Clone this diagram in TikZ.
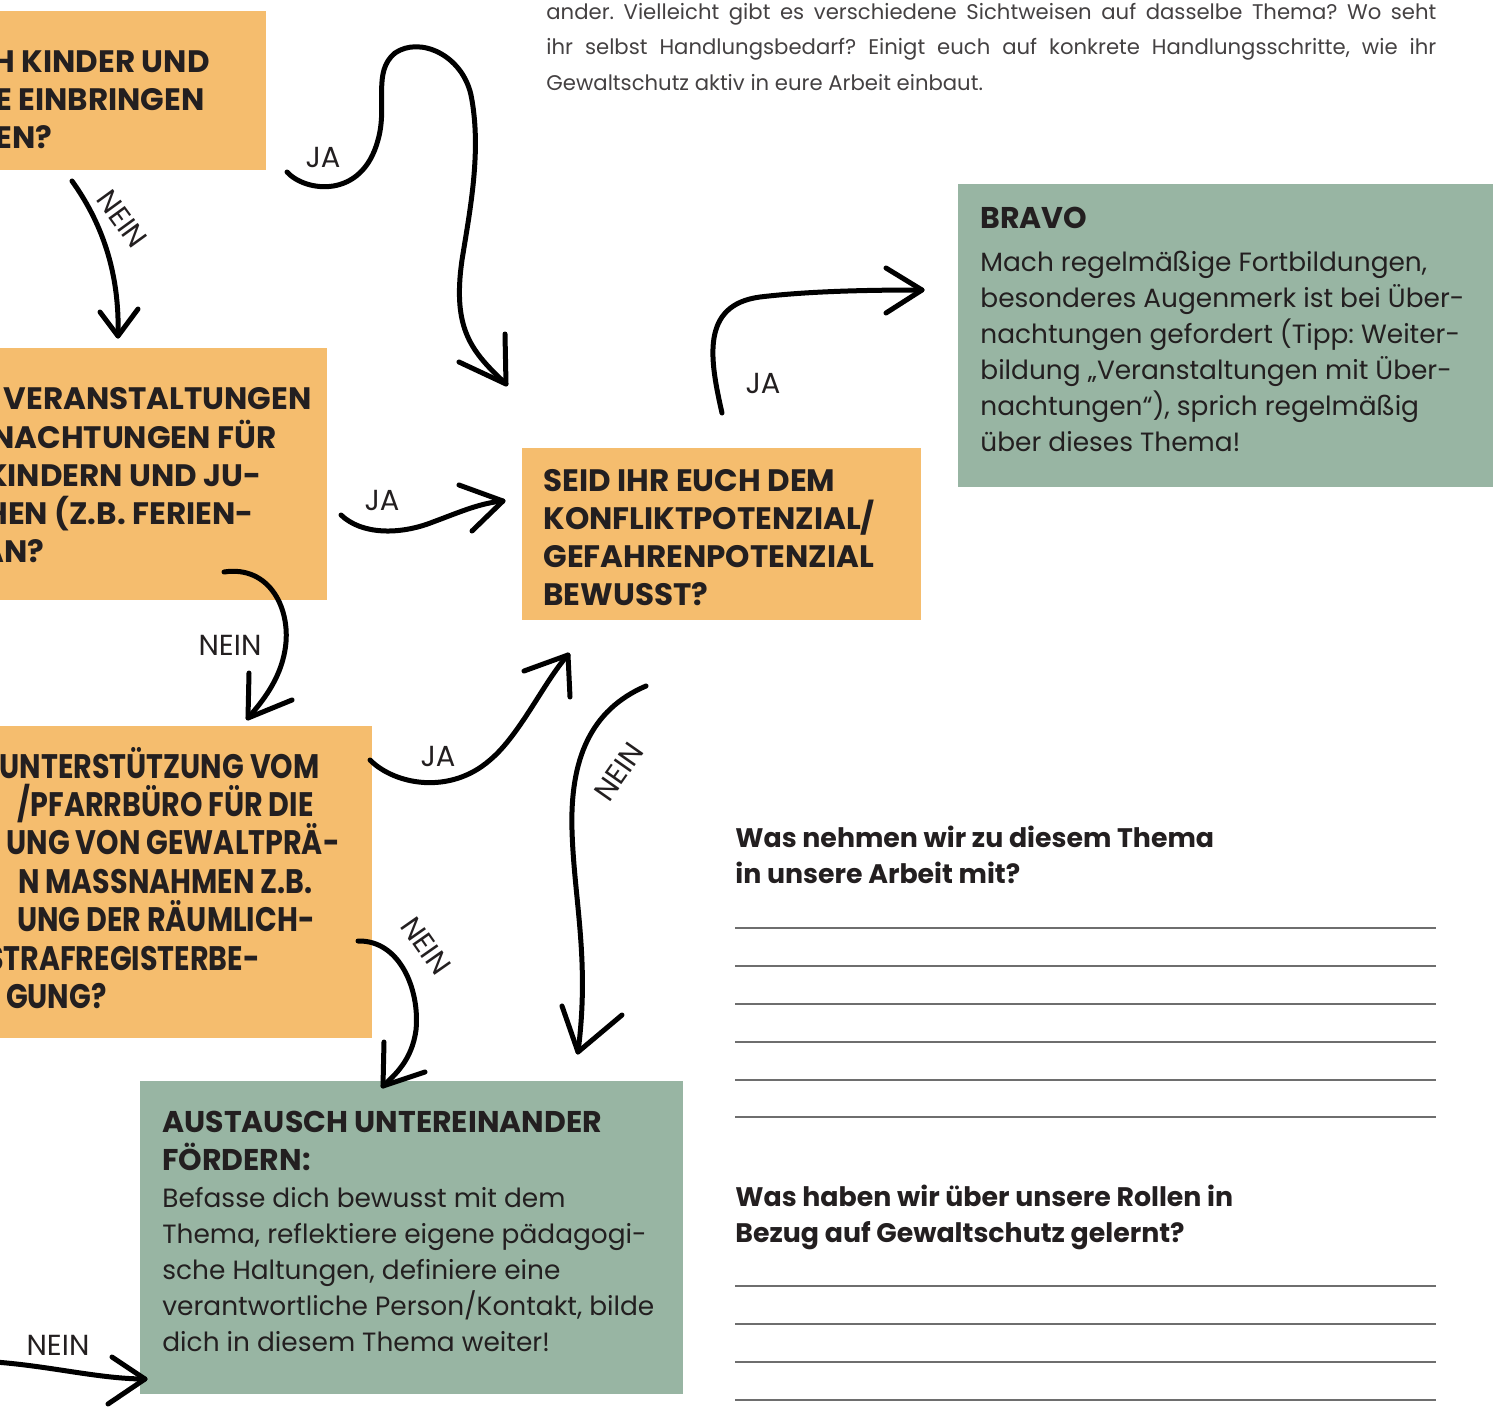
\documentclass[tikz,border=0pt]{standalone}
\usepackage{fontspec}
\setmainfont{Poppins}
\usetikzlibrary{calc}
\definecolor{orng}{HTML}{F5BD6E}
\definecolor{sage}{HTML}{98B5A3}
\definecolor{ink}{HTML}{231F20}
\definecolor{rule}{HTML}{6E6E6E}
\frenchspacing
\newcommand{\condtxt}[1]{\scalebox{0.84}[1]{#1}}
\tikzset{
  obox/.style={fill=orng, draw=none, inner sep=0pt, outer sep=0pt, anchor=north west},
  gbox/.style={fill=sage, draw=none, inner sep=0pt, outer sep=0pt, anchor=north west},
  qline/.style={inner sep=0pt, anchor=base east, text=ink, font=\bfseries\fontsize{15.5}{19}\selectfont},
  qlinec/.style={inner sep=0pt, anchor=base east, text=ink, font=\bfseries\fontsize{17}{19}\selectfont},
  qtext/.style={inner sep=0pt, anchor=base west, text=ink, align=left, font=\bfseries\fontsize{15.5}{19}\selectfont},
  htext/.style={inner sep=0pt, anchor=base west, text=ink, align=left, font=\bfseries\fontsize{15}{19}\selectfont},
  btext/.style={inner sep=0pt, anchor=base west, text=ink, align=left, font=\fontsize{13.2}{18}\selectfont},
  lbl/.style={inner sep=0pt, text=ink, font=\fontsize{14.5}{16}\selectfont},
  stroke/.style={draw=black, line width=2.5pt, line cap=round, line join=round},
  wline/.style={draw=rule, line width=0.7pt},
}
\begin{document}
\begin{tikzpicture}[x=0.5pt,y=-0.5pt]
\useasboundingbox (0,0) rectangle (1501,1408);
\clip (0,0) rectangle (1501,1408);

% ---------- boxes ----------
\node[obox, minimum width=138pt, minimum height=79.5pt] (b1) at (-10,11) {};
\node[obox, minimum width=168.5pt, minimum height=126pt] (b2) at (-10,348) {};
\node[obox, minimum width=191pt, minimum height=156pt] (b3) at (-10,726) {};
\node[obox, minimum width=199.5pt, minimum height=86pt] (b4) at (522,448) {};
\node[gbox, minimum width=267.5pt, minimum height=151.5pt] (bravo) at (958,184) {};
\node[gbox, minimum width=271.5pt, minimum height=156.5pt] (aust) at (140,1081) {};

% ---------- box 1 ----------
\node[qline] (t1a) at (210,72) {H KINDER UND};
\node[qline] (t1b) at (205,110) {E EINBRINGEN};
\node[qline] (t1c) at (53,148) {EN?};

% ---------- box 2 ----------
\node[qline] (t2a) at (312,409) {R VERANSTALTUNGEN};
\node[qline] (t2b) at (277,448) {NACHTUNGEN FÜR};
\node[qline] (t2c) at (262,486) {KINDERN UND JU-};
\node[qline] (t2d) at (254,524) {HEN (Z.B. FERIEN-};
\node[qline] (t2e) at (45,562) {AN?};

% ---------- box 3 ----------
\node[qlinec] (t3a) at (320,778) {\condtxt{UNTERSTÜTZUNG VOM}};
\node[qlinec] (t3b) at (314,816) {\condtxt{/PFARRBÜRO FÜR DIE}};
\node[qlinec] (t3c) at (340,854) {\condtxt{UNG VON GEWALTPRÄ-}};
\node[qlinec] (t3d) at (313,893) {\condtxt{N MASSNAHMEN Z.B.}};
\node[qlinec] (t3e) at (315,931) {\condtxt{UNG DER RÄUMLICH-}};
\node[qlinec] (t3f) at (260,970) {\condtxt{STRAFREGISTERBE-}};
\node[qlinec] (t3g) at (107,1008) {\condtxt{GUNG?}};

% ---------- box 4 (base = last line) ----------
\node[qtext] (t4) at (543,605) {SEID IHR EUCH DEM\\KONFLIKTPOTENZIAL/\\GEFAHRENPOTENZIAL\\BEWUSST?};

% ---------- BRAVO ----------
\node[htext] (tbh) at (980,228) {BRAVO};
\node[btext] (tbb) at (980,451) {Mach regelmäßige Fortbildungen,\\besonderes Augenmerk ist bei Über-\\nachtungen gefordert (Tipp: Weiter-\\bildung „Veranstaltungen mit Über-\\nachtungen“), sprich regelmäßig\\über dieses Thema!};

% ---------- AUSTAUSCH ----------
\node[htext] (tah) at (162,1170) {AUSTAUSCH UNTEREINANDER\\FÖRDERN:};
\node[btext] (tab) at (162,1351) {Befasse dich bewusst mit dem\\Thema, reflektiere eigene pädagogi-\\sche Haltungen, definiere eine\\verantwortliche Person/Kontakt, bilde\\dich in diesem Thema weiter!};

% ---------- top paragraph (base = first line) ----------
\node[inner sep=0pt, anchor=base west, text=ink!85, text width=445pt, align=justify,
      font=\fontsize{10.6}{17.8}\selectfont] (top) at (546,19)
  {ander. Vielleicht gibt es verschiedene Sichtweisen auf dasselbe Thema? Wo seht ihr selbst Handlungsbedarf? Einigt euch auf konkrete Handlungsschritte, wie ihr Gewaltschutz aktiv in eure Arbeit einbaut.};

% ---------- questions ----------
\node[inner sep=0pt, anchor=base west, text=ink, align=left, font=\bfseries\fontsize{13.4}{18}\selectfont] (qa) at (735,883)
  {Was nehmen wir zu diesem Thema\\in unsere Arbeit mit?};
\node[inner sep=0pt, anchor=base west, text=ink, align=left, font=\bfseries\fontsize{13.4}{18}\selectfont] (qb) at (735,1242)
  {Was haben wir über unsere Rollen in\\Bezug auf Gewaltschutz gelernt?};
\foreach \yy in {928,966,1004,1042,1080,1117,1286,1324,1362,1400}
  \draw[wline] (735,\yy) -- (1436,\yy);

% ---------- arrow coordinates ----------
\coordinate (a1s) at (72,181);   \coordinate (a1t) at (118,336);
\coordinate (a2s) at (287,172);  \coordinate (a2t) at (506,384);
\coordinate (a3s) at (341,515);  \coordinate (a3t) at (503,501);
\coordinate (a4s) at (224,572);  \coordinate (a4t) at (248,718);
\coordinate (a5s) at (370,760);  \coordinate (a5t) at (568,655);
\coordinate (a6s) at (646,686);  \coordinate (a6t) at (578,1052);
\coordinate (a7s) at (358,941);  \coordinate (a7t) at (383,1086);
\coordinate (a8s) at (722,413);  \coordinate (a8t) at (922,290);
\coordinate (a9s) at (-5,1362);  \coordinate (a9t) at (145,1379);

% A1 NEIN box1 -> box2
\draw[stroke] (a1s) .. controls (100,220) and (120,270) .. (a1t);
\draw[stroke] (100,312) -- (a1t) -- (138,309);
\node[lbl, rotate=-54] (l1) at (122,219) {NEIN};

% A2 JA box1 -> box4
\draw[stroke] (a2s) .. controls (305,192) and (362,200) .. (378,140)
  .. controls (388,105) and (372,72) .. (395,53)
  .. controls (420,36) and (462,55) .. (471,95)
  .. controls (482,150) and (470,210) .. (462,260)
  .. controls (452,330) and (472,352) .. (a2t);
\draw[stroke] (505,334) -- (a2t) -- (459,362);
\node[lbl] (l2) at (323,157) {JA};

% A3 JA box2 -> box4
\draw[stroke] (a3s) .. controls (362,535) and (400,535) .. (433,522)
  .. controls (460,512) and (480,503) .. (a3t);
\draw[stroke] (459,485) -- (a3t) -- (472,531);
\node[lbl] (l3) at (382,500) {JA};

% A4 NEIN box2 -> box3
\draw[stroke] (a4s) .. controls (270,565) and (292,610) .. (285,650)
  .. controls (280,680) and (262,702) .. (a4t);
\draw[stroke] (249,673) -- (a4t) -- (292,700);
\node[lbl] (l4) at (230,645) {NEIN};

% A5 JA box3 -> box4
\draw[stroke] (a5s) .. controls (395,785) and (450,795) .. (490,760)
  .. controls (520,735) and (545,680) .. (a5t);
\draw[stroke] (524,671) -- (a5t) -- (570,697);
\node[lbl] (l5) at (438,756) {JA};

% A6 NEIN box4 -> Austausch
\draw[stroke] (a6s) .. controls (590,710) and (570,760) .. (572,830)
  .. controls (574,900) and (590,960) .. (a6t);
\draw[stroke] (562,1006) -- (a6t) -- (622,1015);
\node[lbl, rotate=55] (l6) at (619,772) {NEIN};

% A7 NEIN box3 -> Austausch
\draw[stroke] (a7s) .. controls (400,940) and (420,990) .. (416,1030)
  .. controls (412,1060) and (395,1075) .. (a7t);
\draw[stroke] (384,1042) -- (a7t) -- (425,1072);
\node[lbl, rotate=-55] (l7) at (426,946) {NEIN};

% A8 JA box4 -> BRAVO
\draw[stroke] (a8s) .. controls (710,360) and (700,305) .. (760,297)
  .. controls (810,291) and (870,290) .. (a8t);
\draw[stroke] (886,268) -- (a8t) -- (886,313);
\node[lbl] (l8) at (763,383) {JA};

% A9 NEIN -> Austausch
\draw[stroke] (a9s) .. controls (50,1366) and (100,1379) .. (a9t);
\draw[stroke] (112,1357) -- (a9t) -- (108,1404);
\node[lbl] (l9) at (58,1345) {NEIN};
\end{tikzpicture}
\end{document}
